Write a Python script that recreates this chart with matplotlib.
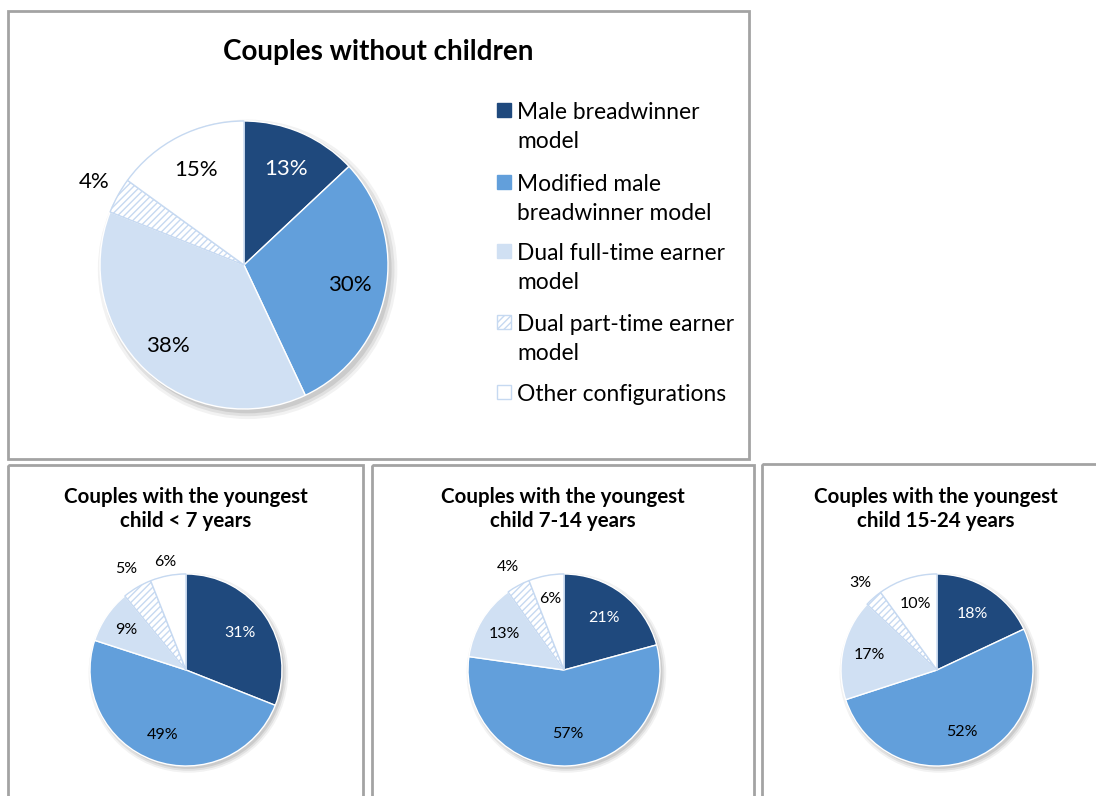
import math
import matplotlib
matplotlib.use("Agg")
import matplotlib.pyplot as plt
from matplotlib.patches import Rectangle, Circle

plt.rcParams['font.family'] = ['Lato', 'DejaVu Sans']
plt.rcParams['hatch.linewidth'] = 1.0

# ---- data ----
categories = ["Male breadwinner\nmodel",
              "Modified male\nbreadwinner model",
              "Dual full-time earner\nmodel",
              "Dual part-time earner\nmodel",
              "Other configurations"]

titles = ["Couples without children",
          "Couples with the youngest\nchild < 7 years",
          "Couples with the youngest\nchild 7-14 years",
          "Couples with the youngest\nchild 15-24 years"]

no_children = [13, 30, 38, 4, 15]
child_under_7 = [31, 49, 9, 5, 6]
child_7_14 = [21, 57, 13, 4, 6]
child_15_24 = [18, 52, 17, 3, 10]

# ---- style ----
W, H = 1096, 796
face_colors = ["#1F497D", "#629FDB", "#D0E0F3", "white", "white"]
edge_colors = ["white", "white", "white", "#C6D9F1", "#C6D9F1"]
hatches = [None, None, None, "/////", None]
label_colors = ["white", "black", "black", "black", "black"]
border = "#A3A3A3"

fig = plt.figure(figsize=(W / 100, H / 100), dpi=100)


def px_rect(x0, y0, x1, y1):
    return [x0 / W, 1 - y1 / H, (x1 - x0) / W, (y1 - y0) / H]


# panel frames
frame_ax = fig.add_axes([0, 0, 1, 1])
frame_ax.set_xlim(0, W)
frame_ax.set_ylim(H, 0)
frame_ax.axis("off")
for (x0, y0, x1, y1) in [(8, 11, 749, 459), (8, 465, 363, 820),
                         (372, 465, 754, 820), (762, 464, 1120, 820)]:
    frame_ax.add_patch(Rectangle((x0, y0), x1 - x0, y1 - y0, fill=False,
                                 edgecolor=border, linewidth=2.0))


def draw_pie(values, cx, cy, r, label_dist, fontsize):
    half = r * 1.5
    ax = fig.add_axes(px_rect(cx - half, cy - half, cx + half, cy + half))
    # soft drop shadow
    for k, a in enumerate([0.05, 0.07, 0.09]):
        ax.add_patch(Circle((0.025, -0.03), 1.0 + 0.02 * (2 - k),
                            facecolor="black", edgecolor="none", alpha=a,
                            zorder=0))
    wedges, _ = ax.pie(values, colors=face_colors, startangle=90,
                       counterclock=False, radius=1.0,
                       wedgeprops=dict(linewidth=1.0))
    for w, ec, h in zip(wedges, edge_colors, hatches):
        w.set_edgecolor(ec)
        w.set_zorder(2)
        if h:
            w.set_hatch(h)
    for w, v, d, c in zip(wedges, values, label_dist, label_colors):
        ang = math.radians((w.theta1 + w.theta2) / 2)
        ax.text(d * math.cos(ang), d * math.sin(ang), f"{v}%",
                ha="center", va="center", fontsize=fontsize, color=c,
                zorder=5)
    ax.set_xlim(-1.5, 1.5)
    ax.set_ylim(-1.5, 1.5)
    ax.set_aspect("equal")
    ax.axis("off")
    return ax


draw_pie(no_children, 244, 265, 144, [0.73, 0.75, 0.77, 1.19, 0.74], 16)
draw_pie(child_under_7, 186, 670, 96, [0.68, 0.72, 0.75, 1.22, 1.14], 11.5)
draw_pie(child_7_14, 564, 670, 96, [0.68, 0.67, 0.72, 1.22, 0.75], 11.5)
draw_pie(child_15_24, 937, 670, 96, [0.69, 0.69, 0.72, 1.21, 0.72], 11.5)

# titles
frame_ax.text(378, 52, titles[0], ha="center", va="center",
              fontsize=20, fontweight="bold")
for cx, t in zip([186, 563, 936], titles[1:]):
    frame_ax.text(cx, 509, t, ha="center", va="center", fontsize=14.8,
                  fontweight="bold", linespacing=1.25)

# legend
leg_y = [110, 182, 251, 322, 392]
for cat, fc, ec, h, y in zip(categories, face_colors, edge_colors,
                             hatches, leg_y):
    sq = Rectangle((497, y - 7), 14, 14, facecolor=fc,
                   edgecolor=(fc if ec == "white" else ec), linewidth=1.0)
    if h:
        sq.set_hatch(h)
    frame_ax.add_patch(sq)
    frame_ax.text(517, y - 8, cat, ha="left", va="top", fontsize=16.4,
                  linespacing=1.48)

fig.savefig("out.png", dpi=100)
